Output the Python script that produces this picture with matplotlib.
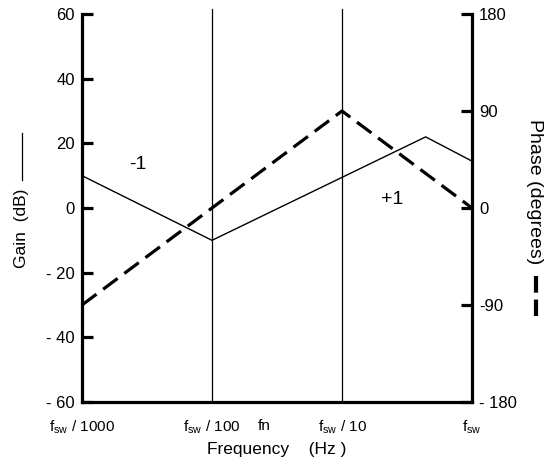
import numpy as np
import matplotlib.pyplot as plt
from matplotlib.lines import Line2D

plt.rcParams['font.family'] = ['Liberation Sans', 'DejaVu Sans']
plt.rcParams['mathtext.fontset'] = 'custom'
plt.rcParams['mathtext.rm'] = 'Liberation Sans'
plt.rcParams['lines.scale_dashes'] = False

# datos (frecuencia normalizada f / fsw)
frec_ganancia = [1e-3, 1e-2, 0.44, 1.0]
ganancia = [10, -10, 22, 14.5]
frec_fase = [1e-3, 1e-1, 1.0]
fase = [-90, 90, 0]

frec_ticks = [1e-3, 1e-2, 0.025, 1e-1, 1.0]
frec_labels = [r'f$_{\mathregular{sw}}$ / 1000', r'f$_{\mathregular{sw}}$ / 100', 'fn',
               r'f$_{\mathregular{sw}}$ / 10', r'f$_{\mathregular{sw}}$']
gan_ticks = [-60, -40, -20, 0, 20, 40, 60]
gan_labels = ['- 60', '- 40', '- 20', '0', '20', '40', '60']
fase_ticks = [-180, -90, 0, 90, 180]
fase_labels = ['- 180', '-90', '0', '90', '180']
lineas_verticales = [1e-2, 1e-1]

fig = plt.figure(figsize=(5.53, 4.63), dpi=100)
ax = fig.add_axes([82 / 553, 61 / 463, 390 / 553, 388 / 463])
ax2 = ax.twinx()

ax.set_xscale('log')
ax.set_xlim(1e-3, 1)
ax.set_ylim(-60, 60)
ax2.set_ylim(-180, 180)

ax.plot(frec_ganancia, ganancia, color='black', lw=1.0)
ax2.plot(frec_fase, fase, color='black', lw=2.3, dashes=(13, 6))

for xv in lineas_verticales:
    ax.axvline(xv, ymin=0, ymax=1.012, color='black', lw=0.9, clip_on=False)

ax.text(0.0027, 13.3, '-1', fontsize=14, ha='center', va='center')
ax.text(0.245, 2.5, '+1', fontsize=14, ha='center', va='center')

for a in (ax, ax2):
    a.spines['top'].set_visible(False)
    a.minorticks_off()
ax.spines['left'].set_linewidth(2.3)
ax.spines['bottom'].set_linewidth(2.3)
ax2.spines['right'].set_linewidth(2.3)
ax.spines['right'].set_visible(False)
ax2.spines['left'].set_visible(False)
ax2.spines['bottom'].set_visible(False)

ax.set_xticks(frec_ticks)
ax.set_xticklabels(frec_labels)
ax.xaxis.set_minor_locator(plt.NullLocator())
ax.tick_params(axis='x', length=0, pad=12, labelsize=11)

ax.set_yticks(gan_ticks)
ax.set_yticklabels(gan_labels)
ax.tick_params(axis='y', direction='in', length=8, width=2.3, labelsize=12, pad=5)
ax2.set_yticks(fase_ticks)
ax2.set_yticklabels(fase_labels)
ax2.tick_params(axis='y', direction='in', length=8, width=2.3, labelsize=12, pad=5)

ax.set_xlabel('Frequency    (Hz )', fontsize=12.5, labelpad=4)

# etiquetas de los ejes con su simbolo de linea
fig.text(22 / 553, 1 - 228 / 463, 'Gain  (dB)', rotation=90, fontsize=12.5,
         ha='center', va='center')
fig.add_artist(Line2D([22 / 553, 22 / 553], [1 - 180 / 463, 1 - 133 / 463],
                      color='black', lw=0.9))
fig.text(534 / 553, 1 - 192 / 463, 'Phase (degrees)', rotation=270, fontsize=14,
         ha='center', va='center')
fig.add_artist(Line2D([536 / 553, 536 / 553], [1 - 276 / 463, 1 - 316 / 463],
                      color='black', lw=3.0, dashes=(12, 5)))

plt.savefig('out.png', dpi=100)
